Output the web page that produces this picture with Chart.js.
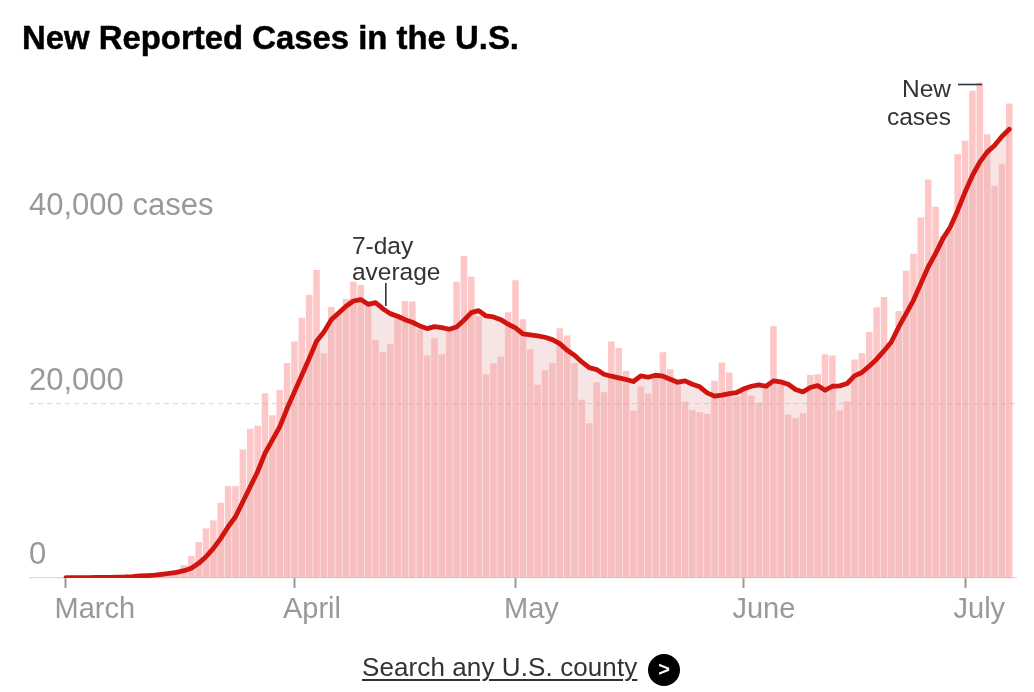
<!DOCTYPE html>
<html><head><meta charset="utf-8">
<script src="https://cdn.jsdelivr.net/npm/chart.js@4"></script>
<style>
html,body{margin:0;padding:0;background:#fff;width:1034px;height:692px;overflow:hidden}
#wrap{position:relative;width:1034px;height:692px}
canvas{position:absolute;left:0;top:0}
#title{position:absolute;left:22px;top:18px;font:bold 34px "Liberation Sans",sans-serif;color:#000;white-space:nowrap;transform-origin:0 0;transform:scaleX(.967);-webkit-text-stroke:.5px #000}
#link{position:absolute;left:362px;top:652px;font:26px "Liberation Sans",sans-serif;letter-spacing:.1px;color:#333;text-decoration:underline;text-decoration-thickness:1.5px;text-underline-offset:3px;white-space:nowrap}
#go{position:absolute;left:648px;top:654px;width:32px;height:32px;border-radius:50%;background:#000;color:#fff;font:bold 20px "Liberation Sans",sans-serif;text-align:center;line-height:30px}
</style></head><body>
<div id="wrap"><canvas id="c" width="1034" height="692"></canvas>
<div id="title"></div>
<div id="link">Search any U.S. county</div><div id="go">&gt;</div></div>
<script>
const TITLE="New Reported Cases in the U.S.";
const MONTHS={0:"March",31:"April",61:"May",92:"June",122:"July"};
const Y_TICKS=[0,20000,40000];
const newCases=[20,10,20,30,50,60,80,100,130,150,200,250,300,400,500,840,1450,2480,4090,5650,6570,8600,10500,10500,14700,17080,17420,21160,18640,21540,24640,27080,29830,32470,35300,25750,31060,30330,31970,33960,33580,31290,27270,25900,26820,29870,31740,31670,28500,25480,27470,25630,28420,33960,36900,34530,29950,23340,24600,25360,30450,34110,29640,26210,22120,23800,24600,28610,27770,24600,20400,17720,22420,21280,27080,26360,23720,19140,21930,21120,23450,25860,23910,22310,20170,19210,18990,18790,22580,24680,23530,20780,21930,20900,20090,22120,28840,22690,18720,18300,18870,23260,23340,25630,25480,19210,20210,25020,25750,28190,31020,32200,26890,30600,35220,37170,41330,45690,42550,39190,39880,48590,50120,55850,56800,50880,44960,47480,54400];
const average=[40,40,50,50,60,70,80,100,120,160,230,270,320,420,530,650,840,1110,1680,2440,3400,4550,5880,7030,8750,10470,12190,14290,15810,17340,19440,21350,23260,25170,27160,28230,29640,30410,31170,31780,31940,31400,31590,30900,30330,30030,29640,29340,28920,28610,28840,28730,28540,28800,29570,30450,30680,30060,29950,29640,29110,28690,28000,27890,27770,27620,27350,26890,26130,25560,24790,24140,23910,23380,23150,22960,22770,22540,23190,23030,23260,23150,22810,22460,22610,22230,21930,21240,20860,20970,21160,21280,21700,22000,22160,22000,22610,22500,22230,21620,21350,21850,22080,21540,22000,22040,22310,23190,23570,24300,25100,26050,27080,28800,30330,31860,33770,35680,37210,38930,40260,42170,44270,46180,47710,48860,49620,50650,51490];
const days=newCases.map((_,i)=>i);
document.getElementById("title").textContent=TITLE;
const notes={label:"#333",font:'24.5px "Liberation Sans",sans-serif'};
const annotate={id:"annotate",afterDraw(ch){
  const c=ch.ctx,x=ch.scales.x;
  c.save();c.font=notes.font;c.fillStyle=notes.label;c.strokeStyle=notes.label;c.lineWidth=1.6;
  c.textBaseline="alphabetic";c.textAlign="left";
  c.fillText("7-day",x.getPixelForValue(38.8),254);
  c.fillText("average",x.getPixelForValue(38.8),280);
  c.beginPath();c.moveTo(x.getPixelForValue(43.4),283);c.lineTo(x.getPixelForValue(43.4),306);c.stroke();
  c.textAlign="right";
  c.fillText("New",951,97);
  c.fillText("cases",951,125);
  c.beginPath();c.moveTo(958,84.5);c.lineTo(982,84.5);c.stroke();
  c.restore();
}};
new Chart(document.getElementById("c"),{
  data:{datasets:[
    {type:"line",data:days.map((d,i)=>({x:d,y:average[i]})),borderColor:"#d0140f",borderWidth:4.8,pointRadius:0,tension:0,fill:"origin",backgroundColor:"rgba(230,170,170,0.3)",borderJoinStyle:"round",borderCapStyle:"round",order:1},
    {type:"bar",data:days.map((d,i)=>({x:d,y:newCases[i]})),backgroundColor:"rgba(250,130,130,0.45)",barThickness:5.9,order:2,borderWidth:0}
  ]},
  options:{
    responsive:false,animation:false,devicePixelRatio:1,
    layout:{padding:{left:29,right:17,top:55,bottom:0}},
    plugins:{legend:{display:false},tooltip:{enabled:false},title:{display:false}},
    scales:{
      x:{type:"linear",offset:false,min:-5.02,max:129.05,
        afterFit(s){s.height=114;},
        afterBuildTicks(s){s.ticks=Object.keys(MONTHS).map(k=>({value:+k}));},
        ticks:{autoSkip:false,maxRotation:0,align:"start",labelOffset:-11.5,padding:5,color:"#999",font:{family:'"Liberation Sans",sans-serif',size:29},callback:v=>MONTHS[v]},
        grid:{offset:false,drawOnChartArea:false,drawTicks:true,tickLength:10,tickWidth:2,tickColor:"#999"},
        border:{display:false}},
      y:{min:0,max:60000,
        afterFit(s){s.width=0;},
        afterBuildTicks(s){s.ticks=Y_TICKS.map(v=>({value:v}));},
        ticks:{mirror:true,padding:0,labelOffset:-22.5,color:"#999",font:{family:'"Liberation Sans",sans-serif',size:31},callback:v=>v===40000?"40,000 cases":v.toLocaleString("en-US")},
        grid:{drawTicks:false,color:c=>c.tick&&c.tick.value===40000?"rgba(0,0,0,0)":"#ddd",lineWidth:1.2},
        border:{display:false,dash:c=>c.tick&&c.tick.value===0?[]:[5,4]}}
    }
  },
  plugins:[annotate]
});
</script></body></html>
